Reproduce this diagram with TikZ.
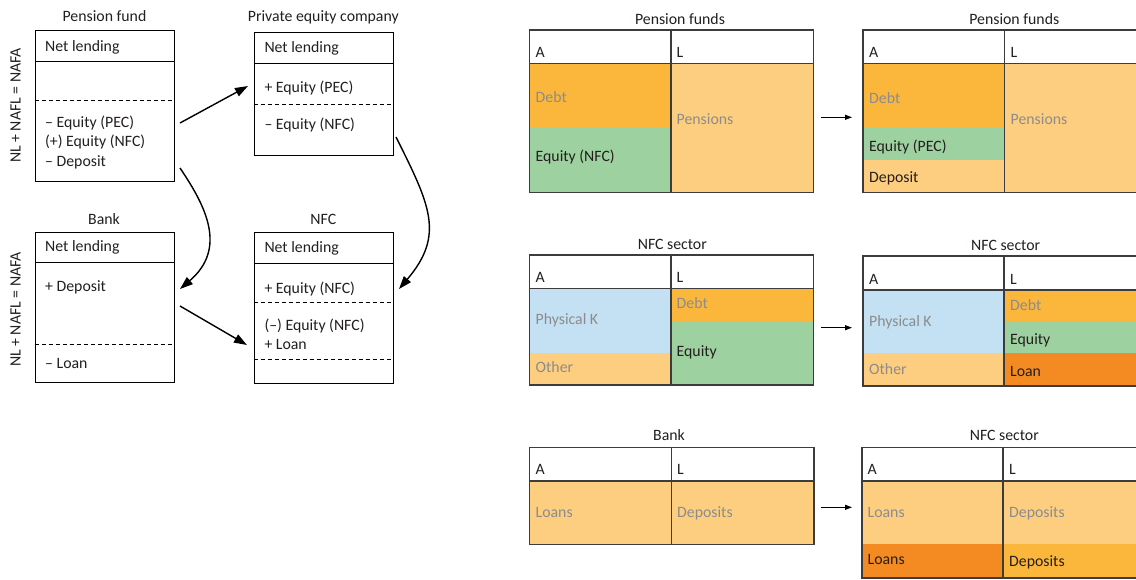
\documentclass[tikz,border=0pt]{standalone}
\usepackage{fontspec}
\setmainfont{Carlito}
\usetikzlibrary{arrows.meta}
\definecolor{cDebt}{HTML}{FBB63C}
\definecolor{cLight}{HTML}{FDCE80}
\definecolor{cGreen}{HTML}{9DD19F}
\definecolor{cBlue}{HTML}{C4E0F3}
\definecolor{cDark}{HTML}{F48A22}
\definecolor{cGrayTxt}{HTML}{8C8C8C}
\definecolor{cTxt}{HTML}{231F20}
\definecolor{cFrame}{HTML}{3C3C3C}
\begin{document}
\begin{tikzpicture}[x=1pt,y=-1pt,
  every node/.style={font=\fontsize{15.8}{18}\selectfont, text=cTxt},
  lbl/.style={anchor=west, inner sep=0pt, text height=0.7em, text depth=0.2em, yshift=-2.5pt},
  ttl/.style={inner sep=0pt, text height=0.7em, text depth=0.2em, yshift=-2.5pt},
  gl/.style={lbl, text=cGrayTxt},
  box/.style={draw=black, line width=1pt, inner sep=0pt, anchor=north west},
  rule/.style={draw=black, line width=1pt},
  dashline/.style={draw=black, line width=0.9pt, dash pattern=on 4pt off 3pt},
  flow/.style={draw=black, line width=1.4pt, -{Triangle[length=13pt,width=9pt]}},
  smallflow/.style={draw=black, line width=1pt, -{Triangle[length=7pt,width=5pt]}},
  frame/.style={draw=cFrame, line width=1.3pt},
]
\useasboundingbox (0,0) rectangle (1136,579);
\clip (0,0) rectangle (1136,579);
\fill[white] (0,0) rectangle (1136,579);

% ---------------- left: flow of funds boxes ----------------
\node[ttl, rotate=90, yshift=0pt] (side1) at (18,103) {NL + NAFL = NAFA};
\node[ttl, rotate=90, yshift=0pt] (side2) at (18,307) {NL + NAFL = NAFA};

% Pension fund
\node[ttl] (pfT) at (104.5,16.7) {Pension fund};
\node[box, minimum width=139pt, minimum height=151pt] (pf) at (34.5,29.5) {};
\draw[rule] (34.5,61.5) -- (173.5,61.5);
\draw[dashline] (34.5,100) -- (173.5,100);
\node[lbl] (pf1) at (45,46) {Net lending};
\node[lbl] (pf2) at (45,122.7) {– Equity (PEC)};
\node[lbl] (pf3) at (45,141.7) {(+) Equity (NFC)};
\node[lbl] (pf4) at (45,161.3) {– Deposit};

% Private equity company
\node[ttl] (pecT) at (323.3,16.7) {Private equity company};
\node[box, minimum width=139pt, minimum height=123.3pt] (pec) at (253.7,32) {};
\draw[rule] (253.7,63.3) -- (392.7,63.3);
\draw[dashline] (253.7,104.7) -- (392.7,104.7);
\node[lbl] (pec1) at (264.3,47.7) {Net lending};
\node[lbl] (pec2) at (264.3,87.3) {+ Equity (PEC)};
\node[lbl] (pec3) at (264.3,124.3) {– Equity (NFC)};

% Bank
\node[ttl] (bkT) at (104,219.3) {Bank};
\node[box, minimum width=139pt, minimum height=150pt] (bk) at (34.5,231.7) {};
\draw[rule] (34.5,262.7) -- (173.5,262.7);
\draw[dashline] (34.5,344.3) -- (173.5,344.3);
\node[lbl] (bk1) at (45,246.7) {Net lending};
\node[lbl] (bk2) at (45,286) {+ Deposit};
\node[lbl] (bk3) at (45,363.3) {– Loan};

% NFC
\node[ttl] (nfT) at (323.3,219.3) {NFC};
\node[box, minimum width=139pt, minimum height=151pt] (nf) at (253.7,231.7) {};
\draw[rule] (253.7,263.3) -- (392.7,263.3);
\draw[dashline] (253.7,302.7) -- (392.7,302.7);
\draw[dashline] (253.7,359) -- (392.7,359);
\node[lbl] (nf1) at (264.3,247.7) {Net lending};
\node[lbl] (nf2) at (264.3,288.3) {+ Equity (NFC)};
\node[lbl] (nf3) at (264.3,325.7) {(–) Equity (NFC)};
\node[lbl] (nf4) at (264.3,344.3) {+ Loan};

% connectors
\coordinate (a1s) at (180,123);   \coordinate (a1e) at (248,86);
\coordinate (a2s) at (180,168);   \coordinate (a2e) at (180,289);
\coordinate (a3s) at (396,137);   \coordinate (a3e) at (399,289);
\coordinate (a4s) at (180,306);   \coordinate (a4e) at (247,345);
\draw[flow] (a1s) -- (a1e);
\draw[flow] (a2s) .. controls (205,205) and (228,248) .. (a2e);
\draw[flow] (a3s) .. controls (430,205) and (445,235) .. (a3e);
\draw[flow] (a4s) -- (a4e);

% ---------------- right: balance sheets ----------------
% Pension funds (before)
\fill[cDebt]  (529.5,63.5) rectangle (671,127.5);
\fill[cGreen] (529.5,127.5) rectangle (671,192.5);
\fill[cLight] (671,63.5) rectangle (813.5,192.5);
\draw[frame] (529.5,30) rectangle (813.5,192.5);
\draw[frame] (529.5,63.5) -- (813.5,63.5);
\draw[frame] (671,30) -- (671,192.5);
\node[ttl] (t1T) at (680,19) {Pension funds};
\node[lbl] (t1A) at (535.5,52.7) {A};
\node[lbl] (t1L) at (676.5,52.7) {L};
\node[gl]  (t1a) at (535.5,97.3) {Debt};
\node[lbl] (t1b) at (535.5,156) {Equity (NFC)};
\node[gl]  (t1c) at (676.5,119) {Pensions};

% Pension funds (after)
\fill[cDebt]  (863,63.5) rectangle (1004.5,128);
\fill[cGreen] (863,128) rectangle (1004.5,160);
\fill[cLight] (863,160) rectangle (1004.5,192.5);
\fill[cLight] (1004.5,63.5) rectangle (1147,192.5);
\draw[frame] (863,30) rectangle (1147,192.5);
\draw[frame] (863,63.5) -- (1147,63.5);
\draw[frame] (1004.5,30) -- (1004.5,192.5);
\node[ttl] (t2T) at (1014.3,19) {Pension funds};
\node[lbl] (t2A) at (869,52.7) {A};
\node[lbl] (t2L) at (1010.5,52.7) {L};
\node[gl]  (t2a) at (869,98) {Debt};
\node[lbl] (t2b) at (869,146) {Equity (PEC)};
\node[lbl] (t2c) at (869,177.7) {Deposit};
\node[gl]  (t2d) at (1010.5,119) {Pensions};

% NFC sector (before)
\fill[cBlue]  (529.5,288.5) rectangle (671,352.5);
\fill[cLight] (529.5,352.5) rectangle (671,385);
\fill[cDebt]  (671,288.5) rectangle (813.5,320.5);
\fill[cGreen] (671,320.5) rectangle (813.5,385);
\draw[frame] (529.5,255) rectangle (813.5,385);
\draw[frame] (529.5,288.5) -- (813.5,288.5);
\draw[frame] (671,255) -- (671,385);
\node[ttl] (t3T) at (672.3,244) {NFC sector};
\node[lbl] (t3A) at (535.5,277.7) {A};
\node[lbl] (t3L) at (676.5,277.7) {L};
\node[gl]  (t3a) at (535.5,319) {Physical K};
\node[gl]  (t3b) at (535.5,367) {Other};
\node[gl]  (t3c) at (676.5,303) {Debt};
\node[lbl] (t3d) at (676.5,351.3) {Equity};

% NFC sector (after)
\fill[cBlue]  (863,290) rectangle (1004,353);
\fill[cLight] (863,353) rectangle (1004,386);
\fill[cDebt]  (1004,290) rectangle (1147,321);
\fill[cGreen] (1004,321) rectangle (1147,353);
\fill[cDark]  (1004,353) rectangle (1147,386);
\draw[frame] (863,256) rectangle (1147,386);
\draw[frame] (863,290) -- (1147,290);
\draw[frame] (1004,256) -- (1004,386);
\node[ttl] (t4T) at (1005.7,245) {NFC sector};
\node[lbl] (t4A) at (869,279) {A};
\node[lbl] (t4L) at (1010,279) {L};
\node[gl]  (t4a) at (869,321) {Physical K};
\node[gl]  (t4b) at (869,369) {Other};
\node[gl]  (t4c) at (1010,305) {Debt};
\node[lbl] (t4d) at (1010,339.3) {Equity};
\node[lbl] (t4e) at (1010,371) {Loan};

% Bank
\fill[cLight] (529.5,481) rectangle (814,544.5);
\draw[frame] (529.5,447.5) rectangle (814,544.5);
\draw[frame] (529.5,481) -- (814,481);
\draw[frame] (671.3,447.5) -- (671.3,544.5);
\node[ttl] (t5T) at (669,435.7) {Bank};
\node[lbl] (t5A) at (535.5,469) {A};
\node[lbl] (t5L) at (677,469) {L};
\node[gl]  (t5a) at (535.5,512) {Loans};
\node[gl]  (t5b) at (677,512) {Deposits};

% NFC sector (bank, after)
\fill[cLight] (862,481) rectangle (1147,544);
\fill[cDark]  (862,544) rectangle (1003,578);
\fill[cDebt]  (1003,544) rectangle (1147,578);
\draw[frame] (862,447.5) rectangle (1147,578);
\draw[frame] (862,481) -- (1147,481);
\draw[frame] (1003,447.5) -- (1003,578);
\node[ttl] (t6T) at (1004.3,435.7) {NFC sector};
\node[lbl] (t6A) at (867.5,469) {A};
\node[lbl] (t6L) at (1009,469) {L};
\node[gl]  (t6a) at (867.5,512) {Loans};
\node[gl]  (t6b) at (1009,512) {Deposits};
\node[lbl] (t6c) at (867.5,559.7) {Loans};
\node[lbl] (t6d) at (1009,561.7) {Deposits};

% small arrows between balance sheets
\coordinate (b1s) at (821,117.3); \coordinate (b1e) at (852,117.3);
\coordinate (b2s) at (821,327.7); \coordinate (b2e) at (852,327.7);
\coordinate (b3s) at (821,507.3); \coordinate (b3e) at (852,507.3);
\draw[smallflow] (b1s) -- (b1e);
\draw[smallflow] (b2s) -- (b2e);
\draw[smallflow] (b3s) -- (b3e);
\end{tikzpicture}
\end{document}
